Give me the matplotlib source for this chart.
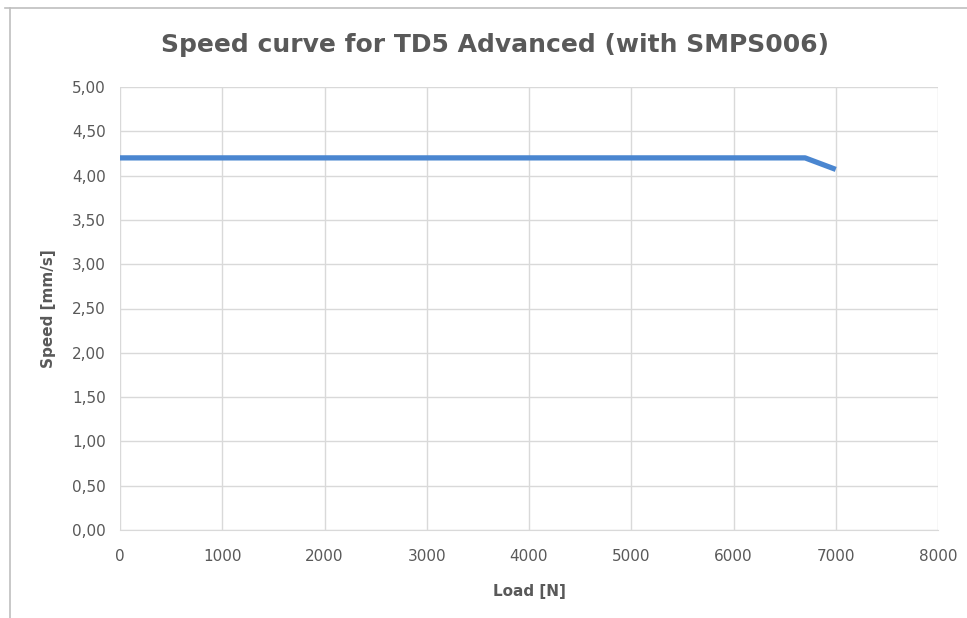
import numpy as np
from matplotlib import pyplot as plt
from matplotlib.lines import Line2D

# Data
load = [0, 6700, 7000]
speed = [4.20, 4.20, 4.07]
x_ticks = [0, 1000, 2000, 3000, 4000, 5000, 6000, 7000, 8000]
y_ticks = [0.0, 0.5, 1.0, 1.5, 2.0, 2.5, 3.0, 3.5, 4.0, 4.5, 5.0]

text_col = "#595959"
grid_col = "#d9d9d9"

fig = plt.figure(figsize=(9.67, 6.18), dpi=100)
ax = fig.add_axes([120/967, 1 - 530/618, (938 - 120)/967, (530 - 87)/618])

ax.plot(load, speed, color="#4a86d0", linewidth=3.8, solid_capstyle="butt",
        solid_joinstyle="round")

ax.set_xlim(0, 8000)
ax.set_ylim(0, 5)
ax.set_xticks(x_ticks)
ax.set_yticks(y_ticks)
ax.set_yticklabels([("%.2f" % v).replace(".", ",") for v in y_ticks])
ax.grid(True, color=grid_col, linewidth=1.0)
ax.set_axisbelow(True)
for s in ["top", "right", "left"]:
    ax.spines[s].set_visible(False)
ax.spines["bottom"].set_color(grid_col)
ax.tick_params(length=0, labelsize=11, labelcolor=text_col)
ax.tick_params(axis="x", pad=14)
ax.tick_params(axis="y", pad=10)

ax.set_xlabel("Load [N]", fontsize=11, fontweight="bold", color=text_col, labelpad=14)
ax.set_ylabel("Speed [mm/s]", fontsize=11, fontweight="bold", color=text_col, labelpad=12)

fig.text(495/967, 1 - 45/618, "Speed curve for TD5 Advanced (with SMPS006)",
         ha="center", va="center", fontsize=18, fontweight="bold", color=text_col)

# outer chart border (partially visible in the screenshot)
fig.add_artist(Line2D([5/967, 1], [1 - 8/618, 1 - 8/618], color="#bfbfbf", linewidth=1.2))
fig.add_artist(Line2D([10/967, 10/967], [0, 1 - 8/618], color="#bfbfbf", linewidth=1.2))

fig.savefig("out.png", dpi=100)
